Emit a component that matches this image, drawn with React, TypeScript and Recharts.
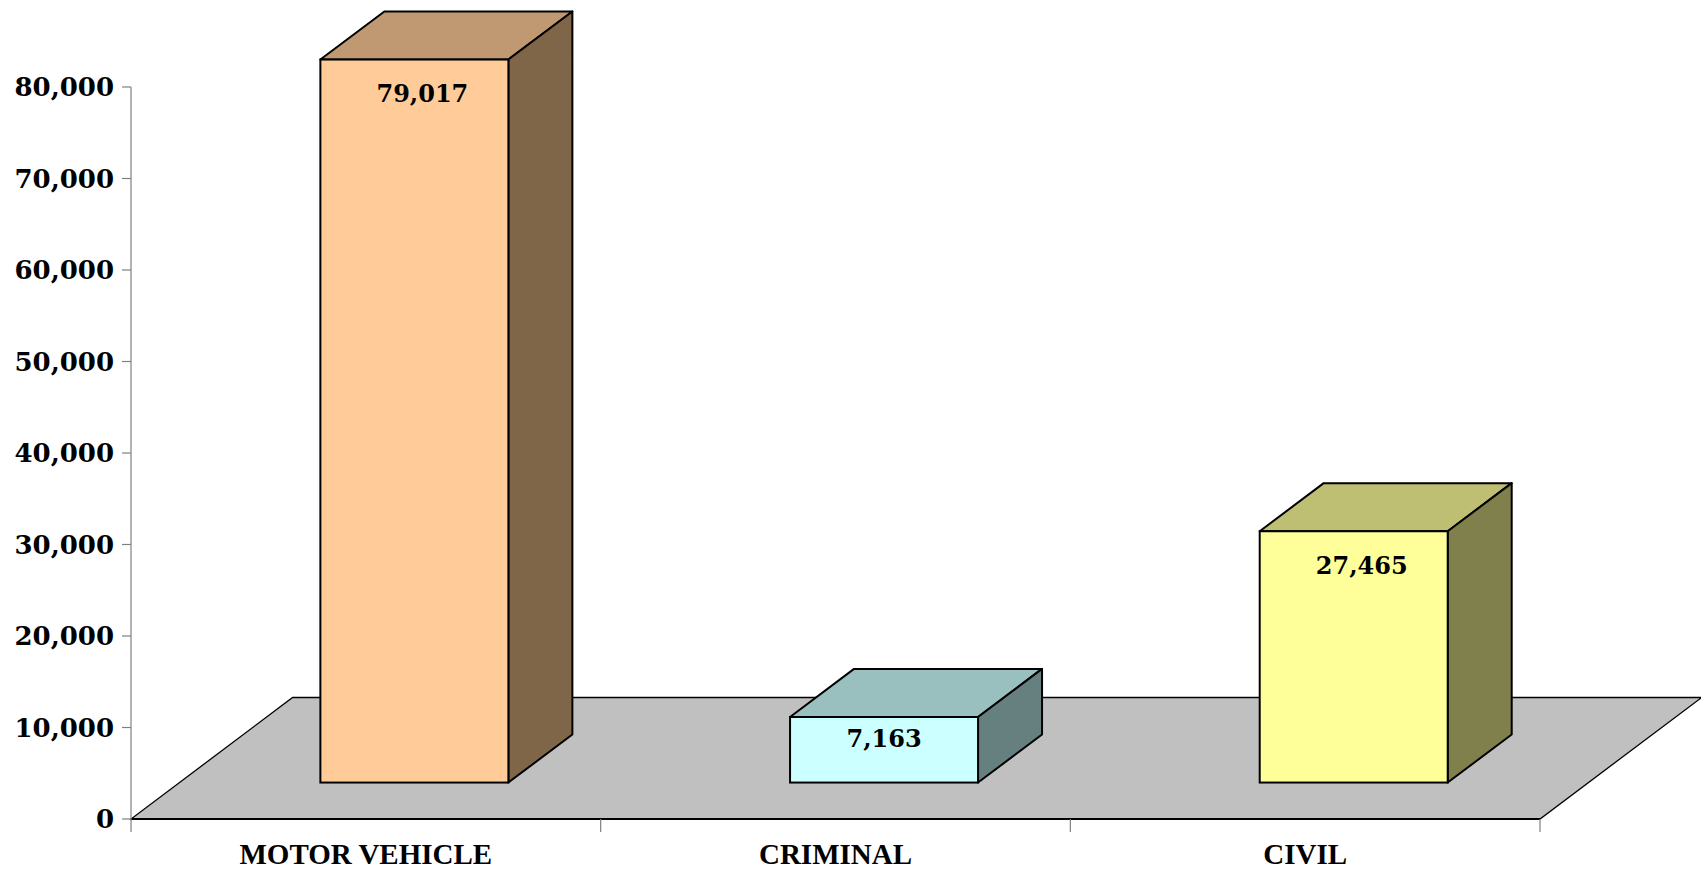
import React from 'react';
import { BarChart, Bar, XAxis, YAxis, CartesianGrid } from 'recharts';

const categories = ['MOTOR VEHICLE', 'CRIMINAL', 'CIVIL'];
const caseCounts = [79017, 7163, 27465];
const yTicks = [0, 10000, 20000, 30000, 40000, 50000, 60000, 70000, 80000];
const frontColors = ['#FFCC99', '#CCFFFF', '#FFFF99'];
const topColors = ['#C09973', '#99BFBF', '#BFBF73'];
const sideColors = ['#806649', '#668080', '#80804D'];

const data = categories.map((name, i) => ({ name, value: caseCounts[i] }));

// 3D depth styling
const FLOOR_DX = 161.6;
const FLOOR_DY = 121.5;
const BAR_OFF = 0.3;
const BAR_DEPTH = 0.396;

const fmt = (v: number) => v.toLocaleString('en-US');

const Box3D = (props: any) => {
  const { x, y, width, height, index, payload } = props;
  const ox = FLOOR_DX * BAR_OFF;
  const oy = FLOOR_DY * BAR_OFF;
  const dx = FLOOR_DX * BAR_DEPTH;
  const dy = FLOOR_DY * BAR_DEPTH;
  const fx = x + ox;
  const fy = y - oy;
  const w = width;
  const h = height;
  const top = `${fx},${fy} ${fx + dx},${fy - dy} ${fx + w + dx},${fy - dy} ${fx + w},${fy}`;
  const side = `${fx + w},${fy} ${fx + w + dx},${fy - dy} ${fx + w + dx},${fy + h - dy} ${fx + w},${fy + h}`;
  const labelY = fy + Math.min(34, h / 3);
  const tall = h > 120;
  return (
    <g>
      <polygon points={top} fill={topColors[index]} stroke="#000" strokeWidth={2} strokeLinejoin="round" />
      <polygon points={side} fill={sideColors[index]} stroke="#000" strokeWidth={2} strokeLinejoin="round" />
      <rect x={fx} y={fy} width={w} height={h} fill={frontColors[index]} stroke="#000" strokeWidth={2} />
      <text
        x={fx + w / 2 + (tall ? 8 : 0)}
        y={labelY}
        textAnchor="middle"
        dominantBaseline="central"
        fontFamily="'DejaVu Serif', serif"
        fontWeight="bold"
        fontSize={24}
        fill="#000"
      >
        {fmt(payload.value)}
      </text>
    </g>
  );
};

const renderFloor = (p: any) => {
  const { x1, x2, y1 } = p;
  const n = categories.length;
  const step = (x2 - x1) / n;
  const pts = `${x1},${y1} ${x2},${y1} ${x2 + FLOOR_DX},${y1 - FLOOR_DY} ${x1 + FLOOR_DX},${y1 - FLOOR_DY}`;
  const dividers = [];
  for (let i = 0; i <= n; i++) {
    dividers.push(
      <line key={i} x1={x1 + i * step} x2={x1 + i * step} y1={y1} y2={y1 + 13} stroke="#808080" strokeWidth={1.2} />
    );
  }
  return (
    <g key={p.key}>
      <polygon points={pts} fill="#C0C0C0" stroke="#000" strokeWidth={1.3} />
      <line x1={x1} x2={x2} y1={y1} y2={y1} stroke="#000" strokeWidth={2.2} />
      {dividers}
    </g>
  );
};

export default function App() {
  return (
    <div style={{ position: 'absolute', left: 0, top: 0, background: '#fff' }}>
      <BarChart
        width={1701}
        height={869}
        data={data}
        margin={{ top: 87, right: 161, left: 0, bottom: 0 }}
        barCategoryGap="30%"
      >
        <CartesianGrid vertical={false} horizontalValues={[0]} horizontal={renderFloor} />
        <XAxis
          dataKey="name"
          interval={0}
          tickLine={false}
          axisLine={false}
          height={50}
          tickSize={12}
          tickMargin={12}
          tick={{ fill: '#000', fontFamily: "'Liberation Serif', serif", fontWeight: 'bold', fontSize: 29 }}
        />
        <YAxis
          domain={[0, 80000]}
          ticks={yTicks}
          interval={0}
          width={131}
          tickSize={9}
          tickMargin={8}
          tickFormatter={fmt}
          axisLine={{ stroke: '#808080', strokeWidth: 1.2 }}
          tickLine={{ stroke: '#808080', strokeWidth: 1.2 }}
          tick={{ fill: '#000', fontFamily: "'DejaVu Serif', serif", fontWeight: 'bold', fontSize: 26 }}
        />
        <Bar dataKey="value" isAnimationActive={false} shape={Box3D} />
      </BarChart>
    </div>
  );
}
